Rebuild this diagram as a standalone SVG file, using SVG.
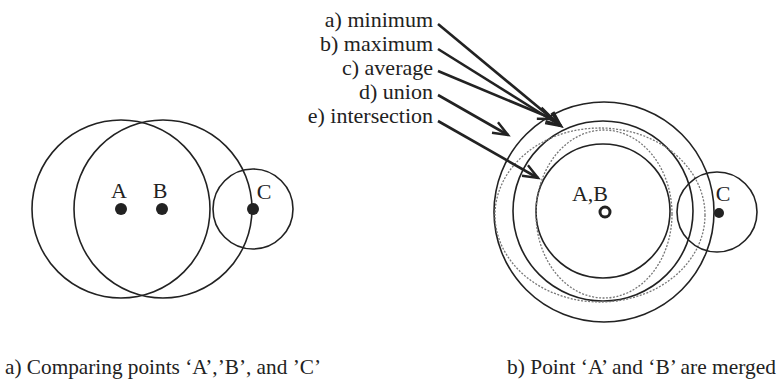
<svg xmlns="http://www.w3.org/2000/svg" width="779" height="383" viewBox="0 0 779 383">
<defs>
<style>
.c{fill:none;stroke:#222;stroke-width:1.6}
.d{fill:none;stroke:#777;stroke-width:1.3;stroke-dasharray:2 1.5}
.a{fill:none;stroke:#222;stroke-width:2.6;marker-end:url(#ah)}
</style>
<marker id="ah" markerUnits="userSpaceOnUse" markerWidth="20" markerHeight="16" viewBox="-16 -8 20 16" refX="0" refY="0" orient="auto">
<path d="M-15,-6 L0,0 L-15,6" fill="none" stroke="#222" stroke-width="2.4"/>
</marker>
</defs>
<rect width="779" height="383" fill="#fff"/>
<g font-family="Liberation Serif, Times New Roman, DejaVu Serif, serif" font-size="22" fill="#222">
<g id="left">
<circle class="c" cx="121" cy="209" r="89"/>
<circle class="c" cx="163" cy="209" r="89"/>
<circle class="c" cx="253" cy="209" r="40"/>
<circle cx="121" cy="209" r="6" fill="#222"/>
<circle cx="162" cy="209" r="6" fill="#222"/>
<circle cx="253" cy="209" r="6" fill="#222"/>
<text x="119" y="198" text-anchor="middle">A</text>
<text x="160" y="198" text-anchor="middle">B</text>
<text x="264" y="199" text-anchor="middle">C</text>
</g>
<g id="right">
<circle class="c" cx="604" cy="212" r="110"/>
<circle class="c" cx="603" cy="211" r="90"/>
<circle class="c" cx="603" cy="211" r="67"/>
<ellipse class="d" cx="600" cy="215" rx="105" ry="87"/>
<ellipse class="d" cx="604" cy="214" rx="68" ry="84"/>
<circle class="c" cx="717" cy="212" r="40"/>
<circle cx="605" cy="212" r="5" fill="none" stroke="#222" stroke-width="3"/>
<circle cx="719" cy="213" r="5" fill="#222"/>
<text x="590" y="201" text-anchor="middle">A,B</text>
<text x="723" y="201" text-anchor="middle">C</text>
</g>
<g id="labels" text-anchor="end">
<text x="433" y="27">a) minimum</text>
<text x="433" y="51">b) maximum</text>
<text x="433" y="75">c) average</text>
<text x="433" y="99">d) union</text>
<text x="433" y="123">e) intersection</text>
</g>
<g id="connectors">
<line class="a" x1="438" y1="24" x2="561" y2="126"/>
<line class="a" x1="438" y1="49" x2="561" y2="126"/>
<line class="a" x1="438" y1="71" x2="553" y2="119"/>
<line class="a" x1="438" y1="95" x2="508" y2="135"/>
<line class="a" x1="438" y1="121" x2="538" y2="178"/>
</g>
<g id="captions" font-size="21">
<text x="5" y="374" textLength="316" lengthAdjust="spacingAndGlyphs">a) Comparing points ‘A’,’B’, and ’C’</text>
<text x="507" y="374" textLength="269" lengthAdjust="spacingAndGlyphs">b) Point ‘A’ and ‘B’ are merged</text>
</g>
</g>
</svg>
